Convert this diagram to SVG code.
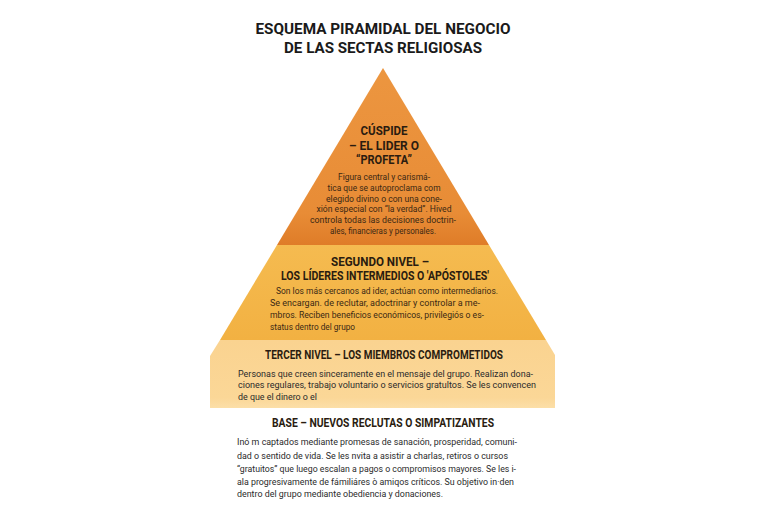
<svg xmlns="http://www.w3.org/2000/svg" width="768" height="512" viewBox="0 0 768 512">
  <defs>
    <linearGradient id="g1" x1="0" y1="0" x2="0" y2="1">
      <stop offset="0" stop-color="#EC9640"/>
      <stop offset="0.82" stop-color="#E88C36"/>
      <stop offset="1" stop-color="#DF7C28"/>
    </linearGradient>
    <linearGradient id="g2" x1="0" y1="0" x2="0" y2="1">
      <stop offset="0" stop-color="#F5BB50"/>
      <stop offset="1" stop-color="#F2B142"/>
    </linearGradient>
    <linearGradient id="g3" x1="0" y1="0" x2="0" y2="1">
      <stop offset="0" stop-color="#FAD390"/>
      <stop offset="0.85" stop-color="#FBD797"/>
      <stop offset="1" stop-color="#FCDFA8"/>
    </linearGradient>
  </defs>
  <style>
    .title { font-family: Roboto, "Liberation Sans", sans-serif; font-weight: 700; font-size: 15.5px; fill: #1a1a1a; text-anchor: middle; }
    .head { font-family: Roboto, "Liberation Sans", sans-serif; font-weight: 700; font-size: 12.5px; fill: #2a1c10; text-anchor: middle; }
    .body { font-family: Roboto, "Liberation Sans", sans-serif; font-size: 9px; fill: #3a2814; }
    .c { text-anchor: middle; }
    .base { font-family: Roboto, "Liberation Sans", sans-serif; font-size: 9.5px; fill: #2b2b2b; }
  </style>
  <rect width="768" height="512" fill="#ffffff"/>

  <g id="title">
    <text class="title" x="383" y="33.5" textLength="255" lengthAdjust="spacingAndGlyphs">ESQUEMA PIRAMIDAL DEL NEGOCIO</text>
    <text class="title" x="383" y="52.5" textLength="198" lengthAdjust="spacingAndGlyphs">DE LAS SECTAS RELIGIOSAS</text>
  </g>

  <g id="tier-cuspide">
    <polygon points="383,68 489,245 277,245" fill="url(#g1)"/>
    <text class="head" x="384" y="135" textLength="47" lengthAdjust="spacingAndGlyphs">CÚSPIDE</text>
    <text class="head" x="384" y="150" textLength="70" lengthAdjust="spacingAndGlyphs">– EL LIDER O</text>
    <text class="head" x="384" y="164" textLength="56" lengthAdjust="spacingAndGlyphs">“PROFETA”</text>
    <text class="body c" x="384" y="180" textLength="92" lengthAdjust="spacingAndGlyphs">Figura central y carismá-</text>
    <text class="body c" x="384" y="191" textLength="113" lengthAdjust="spacingAndGlyphs">tica que se autoproclama com</text>
    <text class="body c" x="384" y="202" textLength="116" lengthAdjust="spacingAndGlyphs">elegido divino o con una cone-</text>
    <text class="body c" x="384" y="212" textLength="135" lengthAdjust="spacingAndGlyphs">xión especial con “la verdad”. Hived</text>
    <text class="body c" x="383" y="223" textLength="146" lengthAdjust="spacingAndGlyphs">controla todas las decisiones doctrin-</text>
    <text class="body c" x="383" y="234" textLength="106" lengthAdjust="spacingAndGlyphs">ales, financieras y personales.</text>
  </g>

  <g id="tier-segundo">
    <polygon points="277,245 489,245 546,340 220,340" fill="url(#g2)"/>
    <text class="head" x="380" y="266" textLength="98" lengthAdjust="spacingAndGlyphs">SEGUNDO NIVEL –</text>
    <text class="head" x="385" y="280" textLength="208" lengthAdjust="spacingAndGlyphs">LOS LÍDERES INTERMEDIOS O 'APÓSTOLES'</text>
    <text class="body" x="276" y="294" textLength="222" lengthAdjust="spacingAndGlyphs">Son  los más cercanos ad ider, actúan como intermediarios.</text>
    <text class="body" x="270" y="306" textLength="210" lengthAdjust="spacingAndGlyphs">Se encargan. de reclutar, adoctrinar y controlar a me-</text>
    <text class="body" x="270" y="318" textLength="214" lengthAdjust="spacingAndGlyphs">mbros. Reciben beneficios económicos, privilegiós o es-</text>
    <text class="body" x="270" y="330" textLength="85" lengthAdjust="spacingAndGlyphs">status dentro del grupo</text>
  </g>

  <g id="tier-tercer">
    <polygon points="220,340 546,340 555,355 555,408 210,408 210,356" fill="url(#g3)"/>
    <text class="head" x="384" y="359" textLength="238" lengthAdjust="spacingAndGlyphs">TERCER NIVEL – LOS MIEMBROS COMPROMETIDOS</text>
    <text class="base" x="238" y="377" textLength="295" lengthAdjust="spacingAndGlyphs">Personas que creen sinceramente en el mensaje del grupo. Realizan dona-</text>
    <text class="base" x="238" y="388" textLength="298" lengthAdjust="spacingAndGlyphs">ciones regulares, trabajo voluntario o servicios gratultos. Se les convencen</text>
    <text class="base" x="238" y="400" textLength="79" lengthAdjust="spacingAndGlyphs">de que el dinero o el</text>
  </g>

  <g id="base">
    <text class="head" x="383" y="427" textLength="222" lengthAdjust="spacingAndGlyphs">BASE – NUEVOS RECLUTAS O SIMPATIZANTES</text>
    <text class="base" x="237" y="445" textLength="280" lengthAdjust="spacingAndGlyphs">Inó m captados mediante promesas de sanación, prosperidad, comuni-</text>
    <text class="base" x="237" y="459" textLength="271" lengthAdjust="spacingAndGlyphs">dad o sentido de vida. Se les nvita a asistir a charlas, retiros o cursos</text>
    <text class="base" x="237" y="472" textLength="279" lengthAdjust="spacingAndGlyphs">“gratuitos” que luego escalan a pagos o compromisos mayores. Se les i-</text>
    <text class="base" x="237" y="485" textLength="277" lengthAdjust="spacingAndGlyphs">ala progresivamente de fámiliáres ò amiqos críticos. Su objetivo in·den</text>
    <text class="base" x="237" y="497" textLength="206" lengthAdjust="spacingAndGlyphs">dentro del grupo mediante obediencia y donaciones.</text>
  </g>
</svg>
